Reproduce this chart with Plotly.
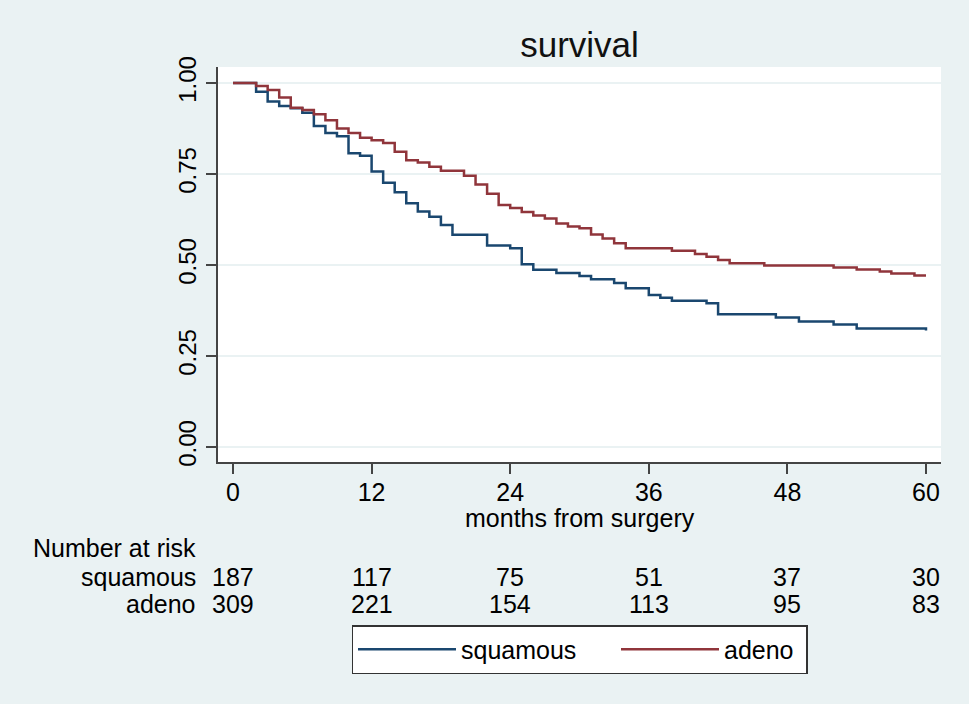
import plotly.graph_objects as go

months = list(range(0, 61))

squamous = [1.0, 1.0, 0.976, 0.949, 0.937, 0.931, 0.918, 0.882, 0.863, 0.854,
            0.807, 0.800, 0.757, 0.726, 0.700, 0.670, 0.647, 0.633, 0.610, 0.583,
            0.583, 0.583, 0.554, 0.554, 0.546, 0.502, 0.487, 0.487, 0.478, 0.478,
            0.470, 0.461, 0.461, 0.451, 0.436, 0.436, 0.418, 0.410, 0.402, 0.402,
            0.402, 0.395, 0.365, 0.365, 0.365, 0.365, 0.365, 0.356, 0.356, 0.345,
            0.345, 0.345, 0.337, 0.337, 0.326, 0.326, 0.326, 0.326, 0.326, 0.326,
            0.320]

adeno = [1.0, 1.0, 0.992, 0.981, 0.960, 0.932, 0.926, 0.914, 0.898, 0.875,
         0.863, 0.850, 0.843, 0.835, 0.811, 0.788, 0.782, 0.770, 0.759, 0.759,
         0.745, 0.721, 0.696, 0.665, 0.657, 0.646, 0.636, 0.628, 0.614, 0.606,
         0.601, 0.584, 0.573, 0.560, 0.546, 0.546, 0.546, 0.546, 0.539, 0.539,
         0.530, 0.523, 0.514, 0.505, 0.505, 0.505, 0.499, 0.499, 0.499, 0.499,
         0.499, 0.499, 0.493, 0.493, 0.488, 0.488, 0.482, 0.477, 0.477, 0.471,
         0.471]

x_ticks = [0, 12, 24, 36, 48, 60]
y_ticks = [0.0, 0.25, 0.50, 0.75, 1.00]
y_tick_labels = ["0.00", "0.25", "0.50", "0.75", "1.00"]

risk_groups = ["squamous", "adeno"]
risk_squamous = [187, 117, 75, 51, 37, 30]
risk_adeno = [309, 221, 154, 113, 95, 83]

BLUE = "#1a476f"
RED = "#90353b"
BG = "#eaf2f3"
FONT = "Liberation Sans, Arial, sans-serif"

fig = go.Figure()
fig.add_trace(go.Scatter(x=months, y=squamous, mode="lines", name="squamous",
                         legendwidth=150,
                         line=dict(color=BLUE, width=2.5, shape="hv")))
fig.add_trace(go.Scatter(x=months, y=adeno, mode="lines", name="adeno",
                         legendwidth=77,
                         line=dict(color=RED, width=2.5, shape="hv")))

W, H = 969, 704
L, R, T, B = 218, 28, 67, 242
ph = H - T - B


def py(pix):
    return (H - B - pix) / ph


annotations = []
annotations.append(dict(text="months from surgery", xref="paper", yref="paper",
                        x=0.5, y=py(518), xanchor="center", yanchor="middle",
                        showarrow=False, font=dict(size=25, color="black", family=FONT)))
annotations.append(dict(text="Number at risk", xref="paper", yref="paper",
                        x=-0.028, y=py(548), xanchor="right", yanchor="middle",
                        showarrow=False, font=dict(size=25, color="black", family=FONT)))
rows = [(risk_groups[0], risk_squamous, 577), (risk_groups[1], risk_adeno, 604)]
for name, vals, ypix in rows:
    annotations.append(dict(text=name, xref="paper", yref="paper",
                            x=-0.028, y=py(ypix), xanchor="right", yanchor="middle",
                            showarrow=False, font=dict(size=25, color="black", family=FONT)))
    for xv, v in zip(x_ticks, vals):
        annotations.append(dict(text=str(v), xref="x", yref="paper",
                                x=xv, y=py(ypix), xanchor="center", yanchor="middle",
                                showarrow=False, font=dict(size=25, color="black", family=FONT)))

fig.update_layout(
    width=W, height=H,
    margin=dict(l=L, r=R, t=T, b=B, pad=0),
    paper_bgcolor=BG, plot_bgcolor="white",
    font=dict(family=FONT, size=25, color="black"),
    title=dict(text="survival", x=(L + (W - L - R) / 2) / W, xanchor="center",
               y=1 - 45 / H, yanchor="middle",
               font=dict(size=35, color="#111111", family=FONT)),
    showlegend=True,
    legend=dict(orientation="h", x=0.5, xanchor="center", y=py(625), yanchor="top",
                bgcolor="white", bordercolor="#333333", borderwidth=1.5,
                font=dict(size=25, color="black", family=FONT),
                itemwidth=98, traceorder="normal"),
    annotations=annotations,
)

fig.update_xaxes(range=[-1.3, 61.3], tickmode="array", tickvals=x_ticks,
                 ticktext=[str(v) for v in x_ticks],
                 showgrid=False, zeroline=False, showline=True, linecolor="#444444",
                 linewidth=2, ticks="outside", ticklen=10, tickwidth=2, tickcolor="#444444",
                 ticklabelstandoff=-3,
                 tickfont=dict(size=25, color="black", family=FONT))
fig.update_yaxes(range=[-0.041, 1.044], tickmode="array", tickvals=y_ticks,
                 ticktext=y_tick_labels, tickangle=-90,
                 showgrid=True, gridcolor=BG, gridwidth=2, zeroline=False,
                 showline=True, linecolor="#444444", linewidth=2,
                 ticks="outside", ticklen=10, tickwidth=2, tickcolor="#444444",
                 tickfont=dict(size=24, color="black", family=FONT))

fig.write_html("out.html", config={"displayModeBar": False},
               post_script="document.body.style.margin='0';document.body.style.overflow='hidden';")
